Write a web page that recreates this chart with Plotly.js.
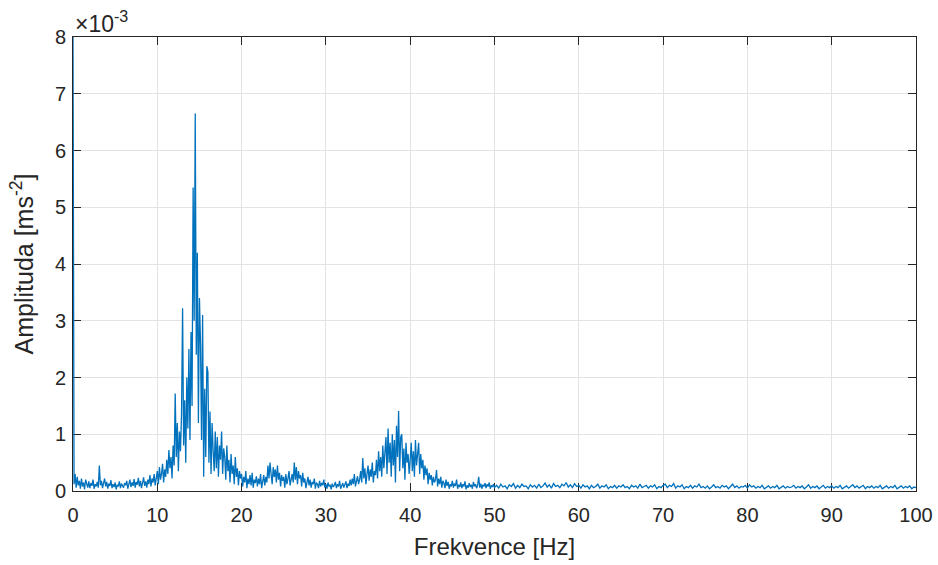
<!DOCTYPE html>
<html>
<head>
<meta charset="utf-8">
<script src="https://cdn.plot.ly/plotly-3.0.1.min.js"></script>
<style>html,body{margin:0;padding:0;background:#fff;}#chart{width:938px;height:565px;}</style>
</head>
<body>
<div id="chart"></div>
<script>
// Frequency grid steps [Hz]
const stepLow = 0.125;   // 0 .. 50 Hz
const stepHigh = 0.25;   // 50.25 .. 100 Hz
const highStart = 50.25;
// Amplitude spectrum in units of 1e-3 m/s^2; rows of 8 values per 1 Hz from 0 to 50 Hz
const ampLow = [
  8.00,0.12,0.30,0.06,0.25,0.10,0.18,0.04,
  0.22,0.08,0.15,0.03,0.20,0.12,0.06,0.17,
  0.05,0.14,0.09,0.20,0.04,0.12,0.08,0.16,
  0.06,0.45,0.10,0.18,0.05,0.14,0.22,0.08,
  0.16,0.04,0.13,0.09,0.19,0.05,0.12,0.07,
  0.15,0.03,0.11,0.08,0.17,0.05,0.13,0.09,
  0.06,0.14,0.10,0.18,0.04,0.12,0.20,0.07,
  0.15,0.09,0.21,0.06,0.16,0.11,0.23,0.08,
  0.18,0.05,0.14,0.24,0.09,0.17,0.06,0.20,
  0.12,0.28,0.08,0.22,0.15,0.30,0.10,0.25,
  0.35,0.12,0.42,0.20,0.30,0.48,0.15,0.38,
  0.25,0.55,0.30,0.72,0.40,0.60,0.22,0.80,
  0.45,1.72,0.60,1.20,0.35,1.05,0.70,1.35,
  3.22,0.80,1.60,0.50,2.00,1.10,2.50,0.90,
  2.80,1.50,5.35,3.00,6.65,2.40,4.20,1.20,
  3.40,2.60,0.90,3.10,0.25,1.80,0.60,2.20,
  2.10,0.50,1.40,0.30,1.20,0.70,0.35,1.05,
  0.40,0.95,0.25,0.80,0.55,1.05,0.30,0.75,
  0.60,0.20,0.80,0.35,0.55,0.15,0.65,0.30,
  0.45,0.12,0.60,0.25,0.40,0.10,0.35,0.22,
  0.30,0.08,0.25,0.15,0.35,0.05,0.22,0.12,
  0.28,0.10,0.32,0.06,0.20,0.14,0.26,0.08,
  0.22,0.12,0.30,0.05,0.18,0.28,0.10,0.25,
  0.15,0.45,0.22,0.50,0.30,0.12,0.42,0.25,
  0.38,0.15,0.45,0.20,0.32,0.08,0.28,0.18,
  0.25,0.06,0.30,0.12,0.22,0.35,0.10,0.20,
  0.30,0.15,0.50,0.20,0.42,0.12,0.35,0.22,
  0.28,0.08,0.32,0.15,0.22,0.05,0.18,0.25,
  0.10,0.20,0.06,0.16,0.12,0.22,0.04,0.15,
  0.12,0.05,0.18,0.08,0.14,0.10,0.20,0.06,
  0.12,0.04,0.15,0.08,0.11,0.03,0.13,0.07,
  0.10,0.16,0.05,0.12,0.08,0.18,0.04,0.11,
  0.14,0.06,0.10,0.17,0.05,0.13,0.09,0.20,
  0.10,0.22,0.12,0.30,0.08,0.18,0.26,0.12,
  0.20,0.35,0.15,0.58,0.22,0.40,0.12,0.30,
  0.45,0.18,0.38,0.25,0.50,0.15,0.35,0.28,
  0.55,0.22,0.70,0.35,0.60,0.25,0.80,0.40,
  0.65,0.95,0.30,1.10,0.50,0.85,0.25,1.00,
  0.45,0.90,0.15,1.15,0.60,1.41,0.35,0.95,
  1.00,0.40,0.75,0.20,0.85,0.50,0.65,0.30,
  0.55,0.85,0.35,0.70,0.25,0.90,0.45,0.60,
  0.85,0.30,0.65,0.40,0.55,0.20,0.45,0.28,
  0.40,0.12,0.32,0.20,0.28,0.10,0.25,0.15,
  0.20,0.37,0.08,0.22,0.12,0.25,0.06,0.18,
  0.14,0.05,0.20,0.09,0.16,0.04,0.12,0.08,
  0.18,0.06,0.13,0.09,0.20,0.04,0.11,0.07,
  0.15,0.05,0.12,0.08,0.17,0.03,0.10,0.06,
  0.14,0.07,0.11,0.04,0.16,0.08,0.12,0.05,
  0.10,0.25,0.06,0.13,0.04,0.11,0.08,0.14,
  0.05,0.12,0.08,0.15,0.04,0.10,0.07,0.12,
  0.06];
// 50.25 .. 100 Hz, 0.25 Hz spacing, units of 1e-3 m/s^2
const ampHigh = [
  0.10,0.05,0.12,0.07,0.09,0.04,0.11,0.08,0.13,0.05,0.10,0.06,0.12,0.08,0.09,0.04,0.11,0.07,0.10,0.05,
  0.12,0.06,0.09,0.14,0.07,0.11,0.05,0.13,0.08,0.10,0.06,0.12,0.09,0.15,0.07,0.11,0.06,0.13,0.08,0.10,
  0.05,0.11,0.07,0.09,0.04,0.10,0.06,0.08,0.12,0.05,0.09,0.07,0.11,0.04,0.08,0.06,0.10,0.05,0.09,0.07,
  0.11,0.06,0.08,0.04,0.10,0.07,0.09,0.05,0.12,0.06,0.08,0.10,0.05,0.09,0.07,0.11,0.04,0.08,0.06,0.10,
  0.12,0.06,0.10,0.08,0.13,0.05,0.09,0.07,0.11,0.04,0.08,0.06,0.10,0.05,0.09,0.07,0.12,0.06,0.08,0.05,
  0.09,0.04,0.07,0.11,0.06,0.08,0.05,0.10,0.07,0.09,0.04,0.08,0.12,0.06,0.09,0.05,0.08,0.07,0.10,0.05,
  0.11,0.07,0.09,0.05,0.08,0.06,0.10,0.04,0.07,0.09,0.05,0.08,0.06,0.10,0.04,0.07,0.09,0.05,0.08,0.06,
  0.07,0.10,0.05,0.08,0.06,0.09,0.04,0.07,0.11,0.05,0.08,0.06,0.09,0.04,0.07,0.10,0.05,0.08,0.06,0.09,
  0.05,0.08,0.06,0.10,0.04,0.07,0.09,0.05,0.08,0.11,0.06,0.09,0.05,0.07,0.10,0.04,0.08,0.06,0.09,0.05,
  0.08,0.06,0.10,0.04,0.07,0.09,0.05,0.08,0.06,0.10,0.04,0.07,0.09,0.05,0.08,0.06,0.09,0.04,0.07,0.06];
const xTicks = [0,10,20,30,40,50,60,70,80,90,100];
const yTicks = [0,1,2,3,4,5,6,7,8];

const freq = ampLow.map((_, i) => i * stepLow).concat(ampHigh.map((_, i) => highStart + i * stepHigh));
const amplitude = ampLow.concat(ampHigh);

const axisColor = '#262626';
const gridColor = '#e3e3e3';
const fontFam = 'Liberation Sans, Arial, Helvetica, sans-serif';

const trace = {
  x: freq, y: amplitude, type: 'scatter', mode: 'lines',
  line: {color: '#0072BD', width: 1.3}, hoverinfo: 'x+y', cliponaxis: false
};

const layout = {
  width: 938, height: 565,
  margin: {l: 73, r: 22, t: 37, b: 74, pad: 0},
  paper_bgcolor: '#ffffff', plot_bgcolor: '#ffffff',
  showlegend: false,
  font: {family: fontFam, color: axisColor, size: 20},
  xaxis: {
    range: [0, 100], tickvals: xTicks, ticktext: xTicks.map(String),
    showgrid: true, gridcolor: gridColor, gridwidth: 1, layer: 'below traces',
    showline: true, linecolor: axisColor, linewidth: 1, mirror: 'ticks',
    ticks: 'inside', ticklen: 8, tickcolor: axisColor, tickwidth: 1,
    zeroline: false, tickfont: {size: 20, color: axisColor}, ticklabelstandoff: 6,
    title: {text: 'Frekvence [Hz]', font: {size: 24, color: axisColor}, standoff: 13}
  },
  yaxis: {
    range: [0, 8], tickvals: yTicks, ticktext: yTicks.map(String),
    showgrid: true, gridcolor: gridColor, gridwidth: 1, layer: 'below traces',
    showline: true, linecolor: axisColor, linewidth: 1, mirror: 'ticks',
    ticks: 'inside', ticklen: 8, tickcolor: axisColor, tickwidth: 1,
    zeroline: false, tickfont: {size: 20, color: axisColor}, ticklabelstandoff: 2,
    title: {text: 'Amplituda [ms<sup>-2</sup>]', font: {size: 25, color: axisColor}, standoff: 14}
  },
  annotations: [{
    xref: 'paper', yref: 'paper', x: 0, y: 1, xanchor: 'left', yanchor: 'bottom',
    yshift: -2, showarrow: false,
    text: '×10<sup>-3</sup>', font: {size: 23, color: axisColor, family: fontFam}
  }]
};

Plotly.newPlot('chart', [trace], layout, {displayModeBar: false, staticPlot: true});
</script>
</body>
</html>
